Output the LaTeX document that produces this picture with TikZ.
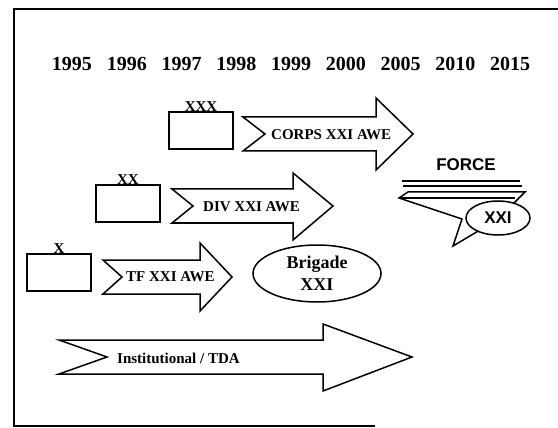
\documentclass[tikz,border=0pt]{standalone}
\usepackage{fontspec}
\setmainfont{Liberation Serif}
\newfontfamily\forcefont{Liberation Sans}
\usetikzlibrary{shapes.geometric}

\begin{document}
\begin{tikzpicture}[x=1pt, y=-1pt]
    % Define styles
    \tikzset{
        frameline/.style={line width=1.8pt},
        yearlabel/.style={font=\fontsize{20}{20}\selectfont\bfseries, inner sep=0pt},
        echelon/.style={draw, line width=1.5pt, minimum width=64pt, minimum height=37pt, inner sep=0pt},
        echelonmark/.style={font=\fontsize{15}{15}\selectfont\bfseries, inner sep=0pt, anchor=base},
        fatarrow/.style={draw, line width=1.5pt, line join=miter, fill=white},
        arrowtext/.style={font=\fontsize{15}{15}\selectfont\bfseries, anchor=west, inner sep=0pt},
        brigade/.style={ellipse, draw, line width=1.5pt, minimum width=128pt, minimum height=57pt,
            inner sep=1pt, align=center, font=\fontsize{18}{22}\selectfont\bfseries},
        forcetext/.style={font=\forcefont\fontsize{17}{17}\selectfont\bfseries, inner sep=0pt},
        speedline/.style={line width=1.6pt}
    }
    \useasboundingbox (0,0) rectangle (558,428);

    % Frame (open on the right)
    \draw[frameline] (558,9) -- (14,9) -- (14,426) -- (375,426);

    % Years
    \foreach \yr [count=\i from 0] in {1995,1996,1997,1998,1999,2000,2005,2010,2015}
        \node[yearlabel] (y\yr) at ({72+54.75*\i},64) {\yr};

    % Corps
    \node[echelon] (corpsbox) at (201,130.5) {};
    \node[echelonmark] (corpsmark) at (201,112) {XXX};
    \draw[fatarrow] (243,117) -- (376,117) -- (376,98) -- (413,134) -- (376,170) -- (376,151) -- (243,151) -- (265,134) -- cycle;
    \node[arrowtext] (corpstext) at (271,135) {CORPS XXI AWE};

    % Division
    \node[echelon] (divbox) at (128,203.5) {};
    \node[echelonmark] (divmark) at (128,185) {XX};
    \draw[fatarrow] (172,189) -- (293,189) -- (293,173) -- (333,206) -- (293,240) -- (293,223) -- (172,223) -- (193,206) -- cycle;
    \node[arrowtext] (divtext) at (203,207) {DIV XXI AWE};

    % Task force
    \node[echelon] (tfbox) at (59,272.5) {};
    \node[echelonmark] (tfmark) at (59,254) {X};
    \draw[fatarrow] (103,260) -- (200,260) -- (200,243) -- (232,277) -- (200,311) -- (200,294) -- (103,294) -- (122,277) -- cycle;
    \node[arrowtext] (tftext) at (126,277) {TF XXI AWE};

    % Brigade XXI
    \node[brigade] (brigade) at (317,273.5) {Brigade\\XXI};

    % Institutional / TDA
    \draw[fatarrow] (59,340) -- (323,340) -- (323,324) -- (412,357) -- (323,391) -- (323,374) -- (59,374) -- (107,357) -- cycle;
    \node[arrowtext] (insttext) at (117,358) {Institutional / TDA};

    % Force XXI
    \node[forcetext] (force) at (466,165) {FORCE};
    \draw[speedline] (402,181) -- (520,181);
    \draw[speedline] (403,186) -- (522,186);
    \draw[fatarrow] (408,192) -- (525,192) -- (512,205) -- (480,230) -- (453,246) -- (462,219) -- (399,198) -- cycle;
    \draw[speedline] (399,198) -- (515,198);
    \node[ellipse, draw, fill=white, line width=1.5pt, minimum width=64pt, minimum height=34pt, inner sep=0pt,
        font=\forcefont\fontsize{17}{17}\selectfont\bfseries] (forcexxi) at (498,218) {XXI};

\end{tikzpicture}
\end{document}
